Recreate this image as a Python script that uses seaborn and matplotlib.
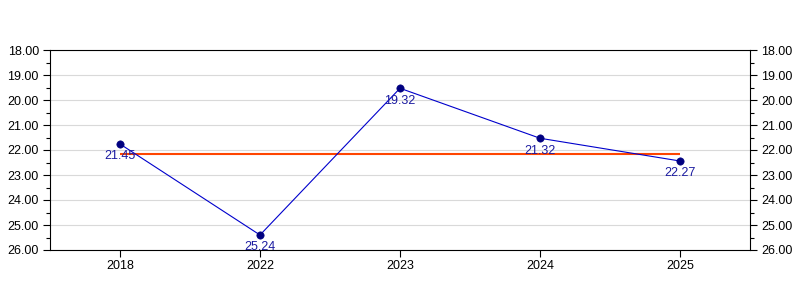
import matplotlib
matplotlib.use("Agg")
import matplotlib.pyplot as plt
import seaborn as sns
import pandas as pd
from matplotlib.ticker import MultipleLocator, FormatStrFormatter

years = ["2018", "2022", "2023", "2024", "2025"]
values = [21.76, 25.40, 19.53, 21.53, 22.44]
point_labels = ["21.45", "25.24", "19.32", "21.32", "22.27"]
average = 22.15

sns.set_theme(style="white")
plt.rcParams['font.family'] = ['Liberation Sans', 'DejaVu Sans']

df = pd.DataFrame({"year": years, "value": values})

fig = plt.figure(figsize=(8, 3), dpi=100)
ax = fig.add_axes([50/800, 50/300, 700/800, 200/300])

ax.hlines(average, 0, len(years) - 1, color="#FF4500", linewidth=1.5, zorder=2)
sns.lineplot(data=df, x="year", y="value", ax=ax, color="#0000CC", linewidth=0.8, zorder=3, sort=False)
sns.scatterplot(data=df, x="year", y="value", ax=ax, color="#000080", s=28, edgecolor="#000080", zorder=4)

for i, (v, lab) in enumerate(zip(values, point_labels)):
    ax.annotate(lab, (i, v), xytext=(0, -4.5), textcoords="offset points",
                ha="center", va="top", color="#1a1aa0", fontsize=9, zorder=5)

ax.set_xlim(-0.5, len(years) - 0.5)
ax.set_ylim(26, 18)
ax.yaxis.set_major_locator(MultipleLocator(1))
ax.yaxis.set_minor_locator(MultipleLocator(0.5))
ax.yaxis.set_major_formatter(FormatStrFormatter("%.2f"))
ax.grid(axis="y", which="major", color="#d9d9d9", linewidth=0.8)
ax.set_axisbelow(True)

ax.tick_params(axis="y", which="both", left=True, right=True, labelleft=True, labelright=True,
               direction="out", colors="black", labelsize=9, width=0.8)
ax.tick_params(axis="y", which="major", length=5, pad=3)
ax.tick_params(axis="y", which="minor", length=3)
ax.tick_params(axis="x", which="major", bottom=True, direction="out", length=5, width=0.8,
               labelsize=9, pad=2, colors="black")

for s in ax.spines.values():
    s.set_color("black")
    s.set_linewidth(0.8)
    s.set_visible(True)

ax.set_xlabel("")
ax.set_ylabel("")

fig.savefig("out.png", dpi=100)
